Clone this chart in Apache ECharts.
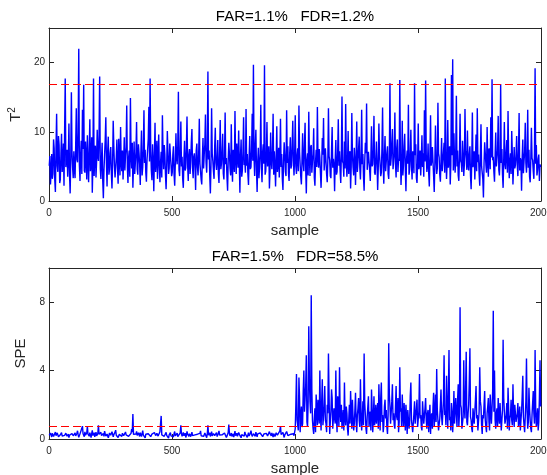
<!DOCTYPE html>
<html>
<head>
<meta charset="utf-8">
<script src="https://cdn.jsdelivr.net/npm/echarts@6/dist/echarts.min.js"></script>
<style>
  html, body { margin: 0; padding: 0; background: #fff; }
  #chart { width: 547px; height: 475px; }
</style>
</head>
<body>
<div id="chart"></div>
<script>
// T2 statistic at every 2.5 samples
const t2Values = [
  5.1,6.5, 2.4,4.1, 6.8,3.2, 3.9,8.9, 7.6,3.0, 1.3,7.7, 12.6,5.1, 4.2,9.4, 8.1,2.6, 3.1,6.8, 9.7,4.2, 5.4,8.3, 2.2,10.1, 17.7,4.9, 6.3,7.4, 3.5,5.9, 11.2,3.8, 1.1,6.2, 15.7,7.1, 4.8,3.3,
  7.2,4.6, 3.3,8.1, 13.4,6.0, 5.6,9.9, 22.0,5.2, 2.9,6.6, 8.7,3.9, 13.2,7.5, 16.8,4.4, 4.1,8.6, 6.2,3.1, 9.5,5.8, 2.7,7.0, 11.8,4.3, 5.3,9.2, 1.2,5.5, 17.7,3.6, 6.9,8.0, 3.4,5.7, 10.3,6.4,
  5.8,9.6, 18.0,4.7, 3.2,6.1, 8.4,2.9, 0.4,4.5, 6.7,8.8, 12.1,5.4, 2.1,7.2, 9.3,3.8, 4.6,6.9, 7.8,4.0, 1.8,5.3, 11.6,7.9, 5.1,3.4, 3.6,6.3, 8.9,4.8, 2.5,9.0, 6.4,3.7, 10.7,5.6, 4.3,7.3,
  3.1,5.9, 9.2,4.4, 6.5,7.8, 13.8,5.0, 2.6,6.2, 7.3,3.5, 14.9,6.7, 4.7,8.4, 1.9,5.1, 8.6,3.9, 5.5,7.1, 11.4,4.6, 3.8,8.2, 6.9,5.3, 2.3,6.8, 10.2,3.7, 4.9,7.6, 13.1,5.5, 7.4,4.1, 2.8,6.0,
  6.1,9.0, 13.6,5.7, 17.7,7.4, 4.4,3.0, 8.2,5.8, 1.4,6.5, 11.3,4.2, 5.9,8.7, 3.2,6.3, 9.6,4.8, 2.7,5.6, 7.1,3.4, 12.4,6.9, 4.6,8.1, 6.8,3.8, 1.7,5.2, 10.1,7.0, 3.9,4.7, 8.3,6.6, 5.2,3.6,
  4.1,6.7, 7.9,3.8, 2.2,5.5, 9.8,6.2, 5.3,8.0, 15.8,4.5, 3.6,7.1, 11.5,5.0, 6.4,3.2, 1.9,6.0, 8.7,4.4, 4.8,7.7, 12.2,5.3, 2.9,6.6, 7.5,3.9, 5.6,8.5, 10.4,4.9, 3.3,6.4, 6.9,5.1, 1.6,7.3,
  8.3,4.9, 3.7,6.8, 11.9,5.4, 5.2,3.1, 2.4,6.3, 9.1,4.7, 6.7,8.2, 12.5,5.6, 4.1,7.5, 18.7,6.0, 7.3,3.6, 1.1,5.2, 13.4,6.9, 5.8,4.3, 3.2,7.8, 10.6,5.5, 4.5,6.1, 8.8,3.9, 2.6,6.7, 11.7,4.6,
  5.4,7.2, 9.7,4.0, 3.1,6.5, 12.8,5.3, 6.2,3.4, 1.5,5.9, 8.4,6.8, 4.7,3.7, 11.1,5.0, 2.8,7.4, 7.6,4.2, 13.0,6.1, 3.9,8.3, 6.3,4.8, 10.2,5.7, 1.2,6.6, 8.9,3.5, 4.4,7.0, 12.1,5.2, 5.7,4.1,
  13.3,5.1, 6.8,3.9, 2.3,6.4, 9.4,4.6, 4.9,7.3, 12.6,5.8, 19.7,6.2, 3.6,8.0, 10.3,4.4, 1.3,5.6, 7.7,3.3, 5.1,6.9, 13.9,4.7, 2.7,7.1, 8.2,5.4, 19.6,3.8, 4.3,6.6, 11.4,5.0, 6.1,7.9, 1.8,4.5,
  9.9,5.7, 4.6,7.0, 12.6,3.8, 7.2,5.3, 2.1,6.1, 10.8,4.2, 5.5,7.7, 3.4,6.3, 11.9,4.9, 6.8,3.2, 1.6,5.8, 8.5,6.7, 4.2,3.6, 13.1,5.5, 7.9,4.0, 2.9,6.9, 9.2,4.7, 5.1,8.1, 11.6,5.9, 3.7,6.4,
  12.4,5.0, 3.9,6.6, 7.6,4.3, 13.8,7.1, 5.2,3.5, 2.4,6.0, 9.8,5.5, 4.3,8.2, 11.3,4.6, 1.1,5.9, 6.9,3.7, 12.9,6.4, 3.6,7.8, 8.1,4.1, 5.7,6.8, 10.5,3.4, 2.2,5.6, 7.4,4.9, 13.6,6.2, 4.8,7.5,
  6.3,4.0, 1.9,5.3, 9.1,6.7, 12.0,4.4, 4.5,7.6, 7.8,3.9, 2.7,5.8, 13.4,6.5, 5.9,3.6, 3.3,7.3, 10.7,4.8, 6.1,5.2, 1.4,6.0, 8.8,3.8, 4.2,7.0, 11.8,5.1, 7.2,4.3, 2.6,6.9, 15.1,5.7, 5.4,3.5,
  8.6,4.7, 14.0,6.1, 3.5,5.4, 10.1,3.9, 6.4,7.2, 1.8,5.0, 12.7,6.6, 4.9,3.7, 7.7,5.9, 2.3,6.3, 11.5,4.2, 5.6,7.5, 9.3,4.8, 3.1,6.0, 13.2,5.3, 6.8,3.4, 1.5,5.7, 8.4,6.9, 14.1,4.5, 4.3,7.1,
  7.1,4.4, 2.9,6.3, 10.8,5.0, 5.3,7.4, 12.3,4.1, 3.8,6.0, 8.6,5.5, 1.6,4.8, 11.2,6.8, 6.6,3.6, 4.1,7.7, 13.5,5.2, 2.5,6.5, 9.4,4.3, 5.7,7.0, 7.9,3.9, 3.2,6.2, 17.0,5.1, 6.2,8.3, 10.4,4.6,
  4.7,6.9, 12.8,5.3, 3.4,7.6, 8.9,4.2, 6.1,5.8, 17.5,6.4, 2.3,5.0, 11.6,3.7, 5.2,7.9, 9.7,4.5, 1.4,6.1, 7.3,5.4, 13.9,3.8, 4.5,6.7, 10.3,5.1, 3.1,7.2, 6.8,4.0, 17.0,6.6, 8.2,3.3, 2.6,5.6,
  11.2,4.6, 5.4,7.3, 3.7,6.0, 9.5,4.9, 6.9,3.5, 13.1,5.7, 17.4,6.8, 4.2,5.2, 8.3,4.0, 2.1,6.5, 12.4,5.1, 5.8,7.8, 7.6,3.6, 1.3,5.4, 10.9,6.2, 3.9,4.7, 14.2,6.9, 6.3,3.8, 2.8,5.9, 9.1,4.3,
  5.6,7.0, 8.4,4.1, 17.7,6.3, 3.2,5.5, 11.7,4.8, 6.5,7.9, 2.4,5.2, 18.2,6.6, 20.5,4.4, 9.8,6.0, 4.1,7.4, 15.2,5.0, 7.3,3.7, 2.9,6.4, 12.6,5.8, 5.5,4.2, 8.7,6.7, 3.6,5.3, 13.3,7.2, 6.1,4.5,
  10.2,5.3, 4.4,6.8, 7.9,3.6, 1.7,5.7, 12.8,4.9, 5.9,7.2, 3.1,6.1, 9.6,4.3, 13.4,5.6, 6.7,3.9, 2.2,6.5, 11.1,5.0, 4.8,3.2, 0.5,5.4, 8.5,6.9, 5.3,4.1, 10.7,5.8, 3.5,7.6, 7.2,4.6, 12.1,6.3,
  17.6,5.9, 6.4,4.2, 2.8,6.6, 9.9,5.0, 5.1,7.3, 12.3,4.5, 3.7,6.2, 16.9,5.5, 7.5,3.8, 1.9,6.0, 11.4,5.3, 4.6,7.0, 8.8,4.1, 13.0,6.4, 3.3,5.7, 6.9,3.9, 10.1,6.8, 2.4,5.1, 7.8,4.7, 5.2,6.5,
  9.4,5.2, 3.6,6.9, 12.7,4.4, 6.2,5.8, 1.5,6.3, 8.9,4.0, 5.7,7.1, 11.3,5.5, 4.1,6.6, 13.2,4.8, 7.4,3.5, 2.7,5.9, 10.6,6.2, 5.9,4.3, 3.2,7.0, 19.2,5.4, 8.1,3.7, 4.5,6.1, 6.7,2.9, 5.3,4.9
];

// SPE statistic at every 2.5 samples (fault from sample 1000)
const speValues = [
  0.21,0.17, 0.35,0.26, 0.12,0.33, 0.28,0.15, 0.09,0.24, 0.41,0.19, 0.18,0.36, 0.31,0.13, 0.06,0.22, 0.25,0.30, 0.38,0.17, 0.14,0.27, 0.29,0.21, 0.11,0.34, 0.44,0.16, 0.20,0.28, 0.08,0.23, 0.33,0.12, 0.16,0.31, 0.27,0.19,
  0.13,0.29, 0.36,0.18, 0.22,0.34, 0.48,0.25, 0.10,0.21, 0.30,0.38, 0.19,0.27, 0.75,0.31, 0.26,0.14, 0.42,0.23, 0.15,0.35, 0.74,0.28, 0.23,0.16, 0.37,0.24, 0.08,0.32, 0.51,0.20, 0.28,0.37, 0.12,0.26, 0.40,0.18, 0.21,0.33,
  0.80,0.27, 0.24,0.36, 0.39,0.20, 0.11,0.28, 0.32,0.15, 0.46,0.31, 0.17,0.23, 0.29,0.37, 0.07,0.19, 0.35,0.26, 0.22,0.14, 0.43,0.30, 0.13,0.25, 0.30,0.40, 0.52,0.22, 0.19,0.33, 0.09,0.17, 0.27,0.29, 0.38,0.21, 0.15,0.34,
  0.28,0.19, 0.12,0.30, 0.41,0.24, 0.20,0.35, 0.34,0.16, 0.07,0.22, 0.25,0.33, 0.58,0.41, 1.46,0.27, 0.33,0.18, 0.18,0.29, 0.44,0.21, 0.10,0.36, 0.29,0.15, 0.37,0.26, 0.14,0.32, 0.49,0.23, 0.22,0.13, 0.06,0.28, 0.31,0.20,
  0.19,0.31, 0.40,0.22, 0.27,0.14, 0.11,0.29, 0.36,0.25, 0.23,0.38, 0.47,0.20, 0.15,0.33, 0.30,0.17, 0.08,0.26, 0.42,0.35, 1.35,0.24, 0.21,0.30, 0.34,0.16, 0.12,0.27, 0.39,0.21, 0.26,0.13, 0.05,0.24, 0.32,0.37, 0.18,0.28,
  0.29,0.21, 0.13,0.32, 0.44,0.18, 0.22,0.27, 0.35,0.14, 0.10,0.25, 0.27,0.36, 0.80,0.30, 0.16,0.23, 0.38,0.19, 0.24,0.34, 0.09,0.22, 0.45,0.28, 0.20,0.15, 0.31,0.37, 0.14,0.26, 0.40,0.20, 0.26,0.31, 0.11,0.24, 0.33,0.17,
  0.17,0.28, 0.36,0.21, 0.25,0.33, 0.48,0.19, 0.12,0.26, 0.30,0.15, 0.21,0.35, 0.39,0.24, 0.08,0.31, 0.80,0.22, 0.28,0.36, 0.15,0.27, 0.43,0.18, 0.23,0.32, 0.34,0.20, 0.10,0.29, 0.37,0.14, 0.19,0.34, 0.47,0.23, 0.26,0.16,
  0.13,0.24, 0.32,0.18, 0.22,0.35, 0.41,0.26, 0.09,0.20, 0.27,0.39, 0.85,0.31, 0.18,0.23, 0.35,0.15, 0.24,0.30, 0.11,0.27, 0.46,0.19, 0.29,0.34, 0.16,0.22, 0.38,0.28, 0.21,0.14, 0.07,0.25, 0.33,0.36, 0.25,0.17, 0.42,0.29,
  0.20,0.32, 0.10,0.23, 0.37,0.17, 0.26,0.34, 0.49,0.28, 0.15,0.21, 0.31,0.38, 0.22,0.16, 0.40,0.27, 0.12,0.30, 0.34,0.19, 0.19,0.35, 0.45,0.24, 0.27,0.14, 0.08,0.29, 0.36,0.22, 0.23,0.33, 0.30,0.18, 0.14,0.26, 0.43,0.31,
  0.24,0.18, 0.35,0.27, 0.11,0.32, 0.29,0.15, 0.18,0.36, 0.41,0.23, 0.22,0.29, 0.33,0.47, 0.75,0.26, 0.16,0.21, 0.38,0.30, 0.09,0.24, 0.27,0.17, 0.44,0.33, 0.20,0.25, 0.31,0.14, 0.13,0.28, 0.36,0.22, 0.25,0.31, 0.19,0.40,
  0.6,2.0, 3.8,1.1, 1.2,0.5, 3.6,2.4, 0.4,1.3, 1.9,0.7, 0.9,2.8, 4.0,1.6, 1.5,3.1, 4.9,1.0, 0.7,2.2, 6.6,3.4, 2.2,1.5, 8.4,2.9, 1.1,0.6, 0.3,1.2, 1.8,0.4, 2.6,1.7, 0.8,2.3, 1.4,0.9,
  4.0,1.4, 0.5,2.2, 3.5,0.8, 1.3,1.9, 3.1,1.1, 0.9,0.4, 2.0,1.5, 5.0,2.6, 0.3,1.0, 1.6,2.9, 2.4,0.6, 0.7,1.8, 1.2,0.9, 4.0,1.3, 0.4,2.5, 2.1,0.7, 4.2,1.6, 1.0,2.0, 0.6,1.2, 1.7,0.5,
  3.3,1.2, 0.8,1.9, 1.5,0.6, 0.2,1.1, 2.0,0.9, 2.8,1.6, 0.6,2.3, 1.3,0.5, 0.9,1.7, 2.7,1.0, 0.4,1.4, 1.8,2.4, 1.1,0.7, 3.5,1.5, 0.5,1.2, 2.2,0.8, 5.0,2.1, 1.4,0.6, 0.3,1.3, 1.9,2.5,
  0.7,1.3, 1.6,0.5, 2.9,1.8, 0.4,1.1, 2.5,0.8, 1.2,2.0, 0.9,1.5, 2.1,0.6, 3.2,1.7, 0.5,2.4, 3.3,1.0, 1.4,0.4, 0.8,1.9, 2.3,1.2, 1.7,0.7, 0.3,1.4, 5.6,2.6, 1.9,0.9, 1.0,2.2, 3.2,1.1,
  1.5,0.8, 0.6,1.9, 3.1,1.3, 1.1,2.4, 0.4,1.0, 4.2,1.6, 1.8,0.7, 2.6,1.4, 0.7,2.1, 1.3,0.5, 2.0,1.2, 0.3,1.7, 1.6,0.6, 0.9,2.5, 3.3,1.1, 1.2,0.4, 0.5,1.5, 2.2,0.9, 1.0,1.8, 2.3,0.7,
  0.8,1.6, 3.8,1.2, 1.4,0.7, 0.5,2.2, 2.1,0.9, 1.0,1.8, 2.4,1.1, 0.6,1.5, 1.7,0.4, 1.2,2.0, 0.3,1.3, 1.5,0.6, 1.9,2.7, 0.7,1.4, 2.6,1.0, 4.1,1.7, 1.1,0.5, 0.4,1.2, 2.0,2.9, 1.3,0.8,
  0.9,2.3, 4.9,1.4, 1.6,0.8, 3.7,1.9, 0.6,2.6, 5.2,1.1, 1.3,0.5, 2.1,1.6, 0.4,1.2, 2.8,0.9, 1.0,2.4, 1.5,0.7, 2.3,3.2, 0.7,1.5, 7.7,2.0, 1.8,0.6, 0.5,1.3, 4.6,1.8, 1.2,2.9, 5.1,1.0,
  0.8,1.5, 2.0,3.4, 5.3,1.3, 1.1,0.6, 0.4,1.8, 1.7,0.9, 0.9,2.3, 3.1,1.2, 1.4,0.5, 0.6,1.6, 4.2,2.2, 1.9,0.8, 0.3,1.4, 1.2,2.0, 2.8,1.1, 0.7,0.4, 1.5,1.9, 2.4,1.0, 0.5,2.6, 1.6,0.9,
  1.0,2.8, 7.5,1.6, 4.0,1.1, 0.6,1.5, 1.8,0.7, 2.4,1.3, 0.9,2.1, 1.3,0.5, 0.4,1.7, 5.8,2.4, 1.6,0.9, 0.8,1.4, 2.1,0.6, 3.0,1.8, 0.5,1.2, 1.4,2.3, 1.1,0.8, 3.2,1.5, 0.7,2.0, 1.9,1.0,
  0.9,1.5, 2.1,0.7, 1.2,1.9, 0.5,1.1, 1.6,2.5, 3.7,1.3, 0.8,0.4, 1.3,2.2, 4.7,1.6, 0.6,1.0, 3.0,1.8, 1.1,0.6, 0.4,1.4, 2.1,2.8, 1.5,0.9, 5.2,1.7, 0.7,1.2, 1.8,0.5, 1.0,2.4, 4.6,1.9
];

const t2Limit = 16.9;
const speLimit = 0.72;
const sampleStep = 2.5;
const sampleMax = 2000;
const sampleInterval = 500;
const t2Max = 25;
const t2Interval = 10;
const speMax = 10;
const speInterval = 4;
const t2Title = 'FAR=1.1%   FDR=1.2%';
const speTitle = 'FAR=1.5%   FDR=58.5%';

const font = 'Liberation Sans, Arial, Helvetica, sans-serif';
const axisColor = '#262626';

const chart = echarts.init(document.getElementById('chart'));

function toPoints(values) {
  return values.map((v, i) => [i * sampleStep + 1, v]);
}

const lineStyle = { color: axisColor, width: 1 };

// bottom axis with labels, top axis carries the title
function xAxes(gridIndex, title) {
  return [
    {
      type: 'value',
      gridIndex: gridIndex,
      position: 'bottom',
      min: 0,
      max: sampleMax,
      interval: sampleInterval,
      name: 'sample',
      nameLocation: 'middle',
      nameGap: 22,
      nameTextStyle: { fontFamily: font, fontSize: 15, color: axisColor },
      axisLine: { show: true, onZero: false, lineStyle: lineStyle },
      axisTick: { inside: true, length: 5, lineStyle: lineStyle },
      axisLabel: { margin: 7, fontFamily: font, fontSize: 10, color: axisColor, formatter: (v) => String(v) },
      splitLine: { show: false },
    },
    {
      type: 'value',
      gridIndex: gridIndex,
      position: 'top',
      min: 0,
      max: sampleMax,
      interval: sampleInterval,
      name: title,
      nameLocation: 'middle',
      nameGap: 4,
      nameTextStyle: { fontFamily: font, fontSize: 15, color: '#000' },
      axisLine: { show: true, onZero: false, lineStyle: lineStyle },
      axisTick: { inside: true, length: 5, lineStyle: lineStyle },
      axisLabel: { show: false },
      splitLine: { show: false },
    },
  ];
}

function yAxes(gridIndex, name, max, interval, gap) {
  return [
    {
      type: 'value',
      gridIndex: gridIndex,
      position: 'left',
      min: 0,
      max: max,
      interval: interval,
      name: name,
      nameLocation: 'middle',
      nameGap: gap,
      nameTextStyle: {
        fontFamily: font,
        fontSize: 15,
        color: axisColor,
        rich: {
          t: { fontFamily: font, fontSize: 15, color: axisColor },
          s: { fontFamily: font, fontSize: 10, color: axisColor, verticalAlign: 'top', padding: [0, 0, 6, 0] },
        },
      },
      axisLine: { show: true, onZero: false, lineStyle: lineStyle },
      axisTick: { inside: true, length: 5, lineStyle: lineStyle },
      axisLabel: { margin: 4, fontFamily: font, fontSize: 10, color: axisColor, showMaxLabel: false },
      splitLine: { show: false },
    },
    {
      type: 'value',
      gridIndex: gridIndex,
      position: 'right',
      min: 0,
      max: max,
      interval: interval,
      axisLine: { show: true, onZero: false, lineStyle: lineStyle },
      axisTick: { inside: true, length: 5, lineStyle: lineStyle },
      axisLabel: { show: false },
      splitLine: { show: false },
    },
  ];
}

function statSeries(axisIndex, values, limit) {
  return {
    type: 'line',
    xAxisIndex: axisIndex,
    yAxisIndex: axisIndex,
    data: toPoints(values),
    showSymbol: false,
    symbol: 'none',
    lineStyle: { color: '#0000ff', width: 1.4 },
    markLine: {
      silent: true,
      symbol: ['none', 'none'],
      label: { show: false },
      lineStyle: { color: '#ff0000', width: 1.2, type: [8, 4] },
      data: [{ yAxis: limit }],
    },
  };
}

const option = {
  animation: false,
  backgroundColor: '#fff',
  grid: [
    { left: 49, top: 28, right: 6, height: 173, containLabel: false, outerBoundsMode: 'none' },
    { left: 49, top: 268, right: 6, height: 171, containLabel: false, outerBoundsMode: 'none' },
  ],
  xAxis: [...xAxes(0, t2Title), ...xAxes(1, speTitle)],
  yAxis: [...yAxes(0, '{t|T}{s|2}', t2Max, t2Interval, 19), ...yAxes(1, 'SPE', speMax, speInterval, 15)],
  series: [
    statSeries(0, t2Values, t2Limit),
    statSeries(2, speValues, speLimit),
  ],
};

chart.setOption(option);

window.addEventListener('resize', () => {
  chart.resize();
});
</script>
</body>
</html>
